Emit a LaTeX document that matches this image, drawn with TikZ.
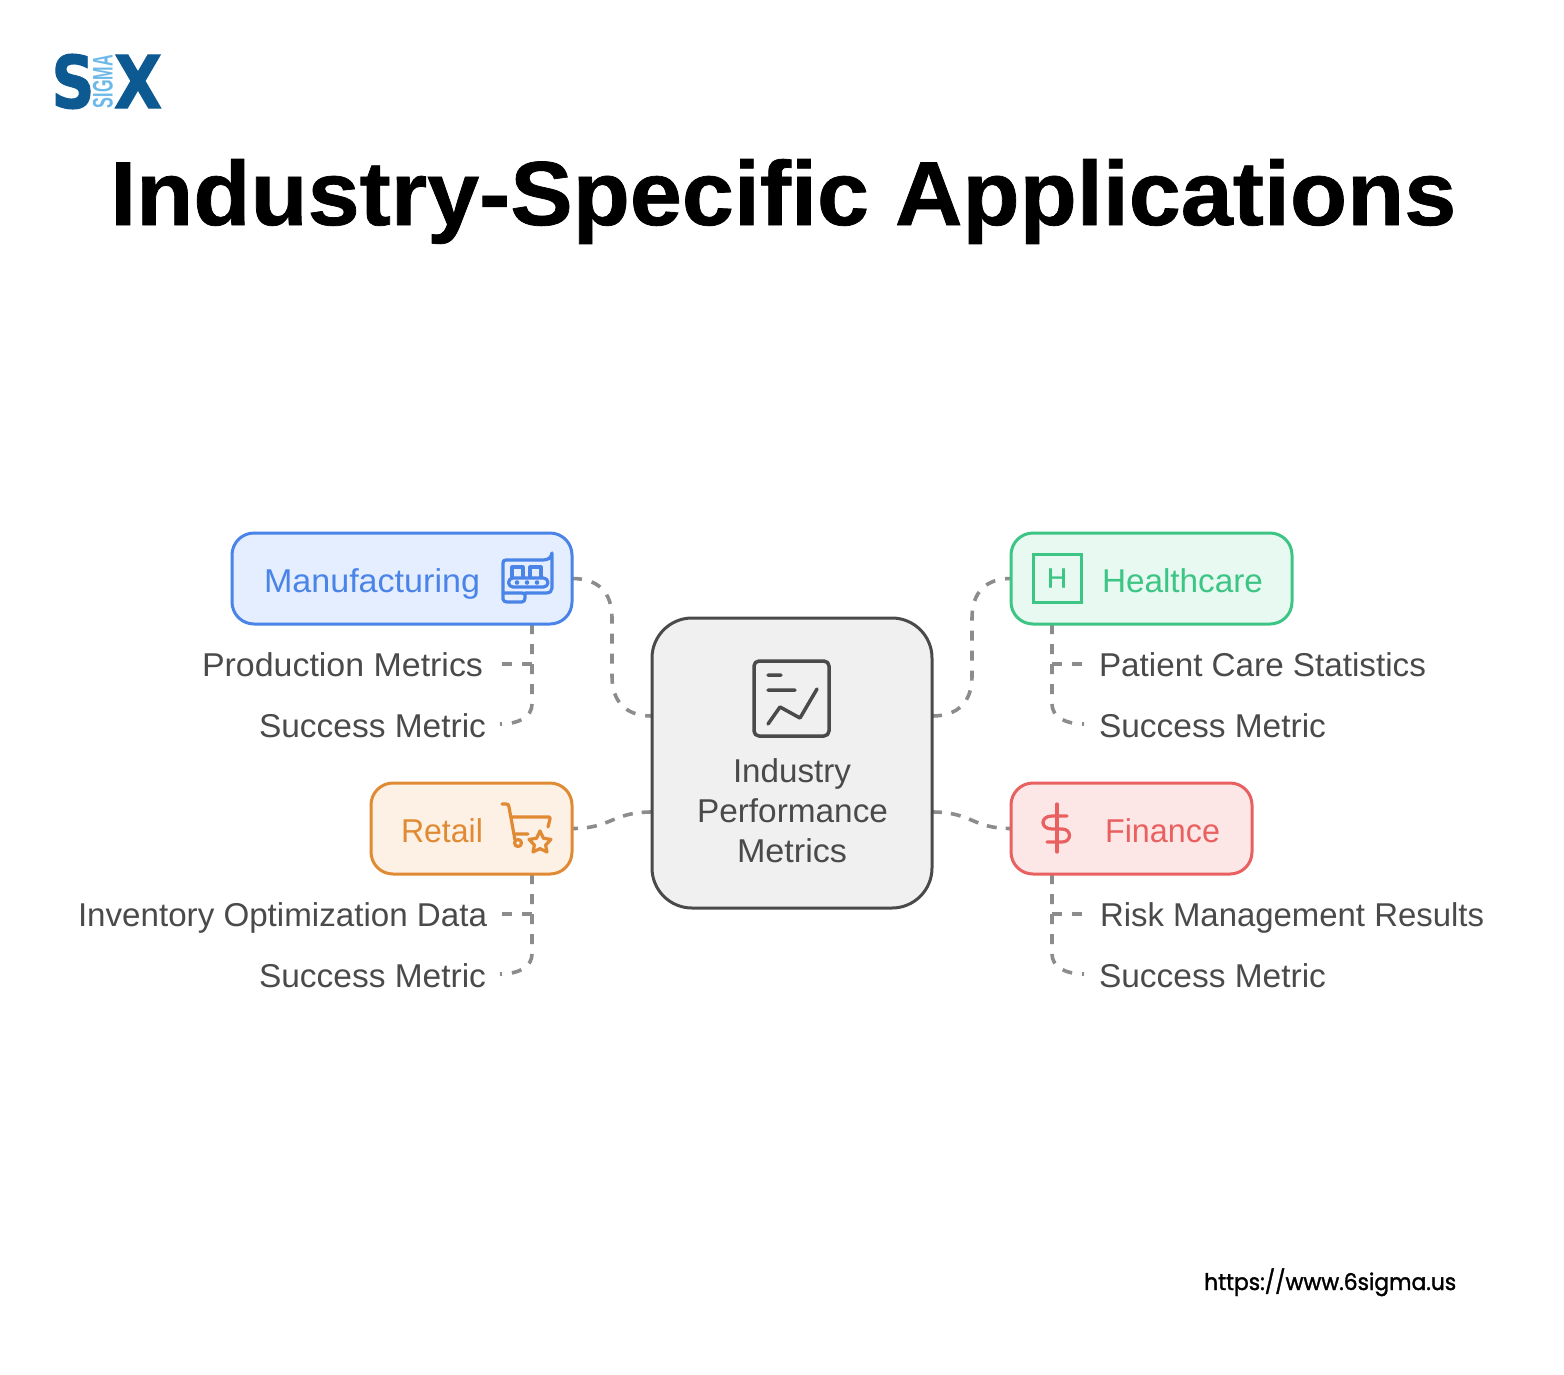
\documentclass[tikz,border=0pt]{standalone}
\usepackage{graphicx}
\usepackage{fontspec}
\setmainfont{Liberation Sans}
\newfontfamily\urlfont[FakeBold=1.5]{Poppins}
\newfontfamily\hfont[FakeBold=0.6]{Liberation Sans}
\newfontfamily\titlefont[FakeBold=0.8]{Liberation Sans Bold}
\newfontfamily\logofont[FakeBold=1.5]{DejaVu Sans Bold}
\usetikzlibrary{backgrounds,calc}
\definecolor{txt}{HTML}{4A4A4A}
\definecolor{dash}{HTML}{8C8C8C}
\definecolor{bluec}{HTML}{4A84E8}\definecolor{bluef}{HTML}{E4EEFF}
\definecolor{greenc}{HTML}{3CC584}\definecolor{greenf}{HTML}{E8F9F1}
\definecolor{orangec}{HTML}{E08A34}\definecolor{orangef}{HTML}{FDF1E5}
\definecolor{redc}{HTML}{E86060}\definecolor{redf}{HTML}{FDE7E6}
\definecolor{navy}{HTML}{0D5A93}\definecolor{sky}{HTML}{6CB8E8}
\newcommand\fitw[2]{\resizebox{#1pt}{\height}{#2}}
\tikzset{
  card/.style={draw=#1c,fill=#1f,line width=3pt,rounded corners=22pt,inner sep=0pt,outer sep=0pt},
  lab/.style={inner sep=0pt,outer sep=0pt,anchor=base west,font=\fontsize{33}{40}\selectfont,text=txt},
  conn/.style={draw=dash,line width=3.6pt,dash pattern=on 10pt off 10pt},
  connshort/.style={draw=dash,line width=3.6pt,dash pattern=on 10pt off 9pt},
  ico/.style={line width=3.2pt,line cap=round,line join=round},
}
\begin{document}
\begin{tikzpicture}[x=1pt,y=-1pt]
\useasboundingbox (0,0) rectangle (1564,1374);
% logo
\node[inner sep=0pt,text=navy] (logoS) at (73,81.5) {\resizebox*{43pt}{55pt}{\logofont S}};
\node[inner sep=0pt,text=navy] (logoX) at (138,81.5) {\resizebox*{48pt}{53pt}{\logofont X}};
\node[inner sep=0pt,text=sky,rotate=90] (logoSig) at (103,81.5) {\resizebox*{53pt}{20pt}{\bfseries SIGMA}};
% title
\node[inner sep=0pt,anchor=base west,font=\titlefont\fontsize{91}{100}\selectfont,text=black] (title) at (110,225) {\fitw{1346}{Industry-Specific Applications}};
% boxes
\node[card=blue,minimum width=340pt,minimum height=91pt] (mfg) at (402,578.5) {};
\node[card=green,minimum width=281pt,minimum height=91pt] (hc) at (1151.5,578.5) {};
\node[card=orange,minimum width=201pt,minimum height=91pt] (ret) at (471.5,828.5) {};
\node[card=red,minimum width=241pt,minimum height=91pt] (fin) at (1131.5,828.5) {};
\node[draw=txt,fill=black!6,line width=3pt,rounded corners=40pt,inner sep=0pt,outer sep=0pt,minimum width=280pt,minimum height=290pt] (ctr) at (792,763) {};
% anchors
\coordinate (cUL) at (652,716);\coordinate (cUR) at (932,716);
\coordinate (cLL) at (652,812);\coordinate (cLR) at (932,812);
\coordinate (mfgB) at (532,624);\coordinate (retB) at (532,874);
\coordinate (hcB) at (1052,624);\coordinate (finB) at (1052,874);
\coordinate (mA) at (532,664);\coordinate (mAe) at (502,664);\coordinate (mBe) at (500,724);
\coordinate (rA) at (532,914);\coordinate (rAe) at (502,914);\coordinate (rBe) at (500,974);
\coordinate (hA) at (1052,664);\coordinate (hAe) at (1083,664);\coordinate (hBe) at (1084,724);
\coordinate (fA) at (1052,914);\coordinate (fAe) at (1083,914);\coordinate (fBe) at (1084,974);
% connectors
\begin{scope}[on background layer]
\fill[white] (0,0) rectangle (1564,1374);
\draw[conn] (mfg.east) .. controls +(26,0) and (612,592) .. (612,618) -- (612,676) .. controls (612,702) and (626,716) .. (cUL);
\draw[conn] (cUR) .. controls (958,716) and (972,702) .. (972,676) -- (972,618) .. controls (972,592) and (986,578.5) .. (hc.west);
\draw[connshort,dash phase=4pt] (ret.east) .. controls +(40,0) and (612,812) .. (cLL);
\draw[connshort] (cLR) .. controls (972,812) and (972,828.5) .. (fin.west);
\draw[conn] (mfgB) -- (532,704) .. controls (532,716) and (520,724) .. (mBe);
\draw[conn] (mA) -- (mAe);
\draw[conn] (retB) -- (532,954) .. controls (532,966) and (520,974) .. (rBe);
\draw[conn] (rA) -- (rAe);
\draw[conn] (hcB) -- (1052,704) .. controls (1052,716) and (1064,724) .. (hBe);
\draw[conn] (hA) -- (hAe);
\draw[conn] (finB) -- (1052,954) .. controls (1052,966) and (1064,974) .. (fBe);
\draw[conn] (fA) -- (fAe);
\end{scope}
% labels
\node[lab,text=bluec] (tMfg) at (264,592) {\fitw{216}{Manufacturing}};
\node[lab] (t1) at (202,676) {\fitw{281}{Production Metrics}};
\node[lab] (t2) at (259,737) {\fitw{227}{Success Metric}};
\node[lab,text=orangec] (tRet) at (401,842) {\fitw{82}{Retail}};
\node[lab] (t3) at (78,926) {\fitw{409}{Inventory Optimization Data}};
\node[lab] (t4) at (259,987) {\fitw{227}{Success Metric}};
\node[lab,text=greenc] (tHc) at (1102,592) {\fitw{161}{Healthcare}};
\node[lab] (t5) at (1099,676) {\fitw{327}{Patient Care Statistics}};
\node[lab] (t6) at (1099,737) {\fitw{227}{Success Metric}};
\node[lab,text=redc] (tFin) at (1105,842) {\fitw{115}{Finance}};
\node[lab] (t7) at (1100,926) {\fitw{384}{Risk Management Results}};
\node[lab] (t8) at (1099,987) {\fitw{227}{Success Metric}};
\node[lab] (c1) at (733,782) {\fitw{118}{Industry}};
\node[lab] (c2) at (697,822) {\fitw{191}{Performance}};
\node[lab] (c3) at (737,862) {\fitw{110}{Metrics}};
\node[inner sep=0pt,anchor=base west,font=\urlfont\fontsize{23}{28}\selectfont,text=black] (url) at (1204,1290) {\fitw{252}{https://www.6sigma.us}};
% chart icon
\draw[ico,draw=txt,line width=3.5pt,rounded corners=5pt] (754,661) rectangle (829,736);
\draw[ico,draw=txt,line width=3.5pt] (768,675) -- (781,675) (768,690) -- (795,690) (768,724) -- (780,707) -- (800,718) -- (817,689);
% manufacturing icon
\begin{scope}[ico,draw=bluec]
\draw[bluec] (525,593) -- (546,593) .. controls (550,593) and (552,591) .. (552,588) -- (552,553) .. controls (551,558) and (548,560) .. (543,560) -- (506,560) .. controls (504,560) and (503,561) .. (503,563) -- (503,599) .. controls (503,601) and (505,602) .. (507,602) -- (522,602) .. controls (524,602) and (525,600) .. (525,598) -- (525,595) .. controls (525,594) and (524,593) .. (522,593) -- (503,593);
\draw[bluec,rounded corners=4.5pt] (508.5,578) rectangle (548,587);
\draw[bluec] (512,577) -- (512,567) -- (523,567) -- (523,577) (530,577) -- (530,567) -- (541,567) -- (541,577);
\fill[bluec] (517,582.5) circle (2.3) (527,582.5) circle (2.3) (537,582.5) circle (2.3);
\end{scope}
% cart icon
\begin{scope}[ico]
\draw[orangec] (502,804) -- (506,804) .. controls (508,804) and (509,805) .. (509,807) -- (515,840) (511,817) -- (549,817) .. controls (550,817) and (550,818) .. (550,819) -- (548,827) (516,834) -- (528,834);
\draw[orangec] (518,843) circle (3.5);
\draw[orangec] (540,831) -- (543.5,838.3) -- (551,839.4) -- (545.6,845) -- (547,852) -- (540,848.6) -- (533,852) -- (534.4,845) -- (529,839.4) -- (536.5,838.3) -- cycle;
\end{scope}
% H icon
\draw[draw=greenc,line width=3pt] (1033,554) rectangle (1081,602);
\node[inner sep=0pt,text=greenc,font=\hfont\fontsize{28}{30}\selectfont] (hIcon) at (1057,578) {H};
% dollar icon
\draw[ico,draw=redc] (1057,804) -- (1057,852);
\draw[ico,draw=redc] (1067,816) -- (1052,816) .. controls (1040,816) and (1040,829) .. (1052,829) -- (1062,829) .. controls (1072,829) and (1072,842) .. (1062,842) -- (1047,842);
\end{tikzpicture}
\end{document}
